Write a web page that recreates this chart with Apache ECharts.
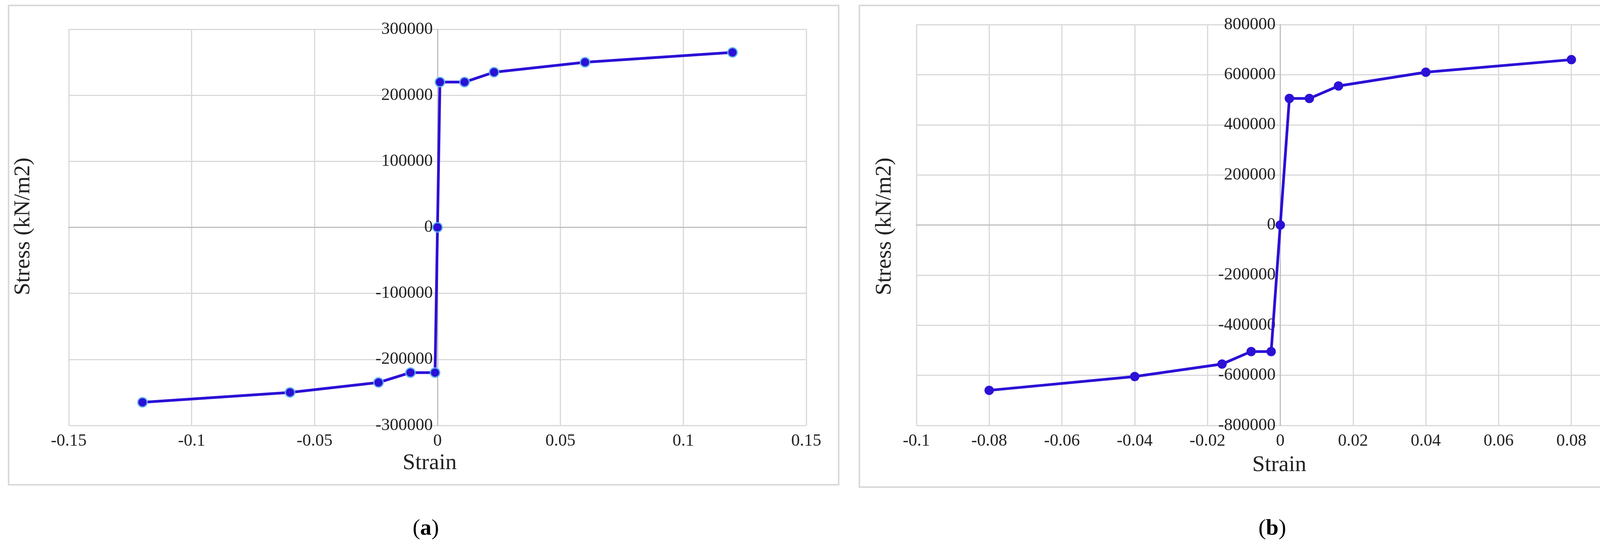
<!DOCTYPE html>
<html>
<head>
<meta charset="utf-8">
<script src="https://cdn.jsdelivr.net/npm/echarts@6/dist/echarts.min.js"></script>
<style>html,body{margin:0;background:#fff}#c{width:4328px;height:1422px}</style>
</head>
<body>
<div id="c"></div>
<script>
var strainA = [-0.12, -0.06, -0.024, -0.011, -0.001, 0, 0.001, 0.011, 0.023, 0.06, 0.12];
var stressA = [-265000, -250000, -235000, -220000, -220000, 0, 220000, 220000, 235000, 250000, 265000];
var strainB = [-0.08, -0.04, -0.016, -0.008, -0.0025, 0, 0.0025, 0.008, 0.016, 0.04, 0.08];
var stressB = [-660000, -605000, -555000, -505000, -505000, 0, 505000, 505000, 555000, 610000, 660000];

var font = 'Liberation Serif';
var gridLine = { show: true, lineStyle: { color: '#d9d9d9', width: 3 } };
function pairs(xs, ys) { return xs.map(function (x, i) { return [x, ys[i]]; }); }
function xAxis(idx, min, max, step) {
    return {
        type: 'value', gridIndex: idx, min: min, max: max, interval: step,
        axisLine: { onZero: true, lineStyle: { color: '#bfbfbf', width: 3 } },
        axisTick: { show: false }, splitLine: gridLine,
        axisLabel: { fontFamily: font, fontSize: 44, color: '#222', margin: 18, formatter: function (v) { return String(v); } }
    };
}
// y axis sits at x = 0, which is the middle of each plot
function yAxis(idx, min, max, step, off) {
    return {
        type: 'value', gridIndex: idx, min: min, max: max, interval: step, offset: off,
        axisLine: { onZero: false, lineStyle: { color: '#bfbfbf', width: 3 } },
        axisTick: { show: false }, splitLine: gridLine,
        axisLabel: { fontFamily: font, fontSize: 44, color: '#222', margin: 12, formatter: function (v) { return String(v); } }
    };
}
function series(idx, data, border) {
    return {
        type: 'line', xAxisIndex: idx, yAxisIndex: idx, data: data,
        symbol: 'circle', symbolSize: 24,
        lineStyle: { color: '#2b10d6', width: 7 },
        itemStyle: { color: '#2b10d6', borderColor: border, borderWidth: border ? 3 : 0 }
    };
}
function label(x, y, text, size, rot) {
    return { type: 'text', x: x, y: y, rotation: rot || 0,
        style: { text: text, font: size + 'px ' + font, fill: '#222', textAlign: 'center', textVerticalAlign: 'middle' } };
}

echarts.init(document.getElementById('c')).setOption({
    animation: false,
    grid: [
        { left: 176, top: 75, width: 1888, height: 1015 },
        { left: 2346, top: 63, width: 1863, height: 1027 }
    ],
    xAxis: [xAxis(0, -0.15, 0.15, 0.05), xAxis(1, -0.1, 0.1, 0.02)],
    yAxis: [yAxis(0, -300000, 300000, 100000, -944), yAxis(1, -800000, 800000, 200000, -931.5)],
    series: [series(0, pairs(strainA, stressA), '#5fb0ee'), series(1, pairs(strainB, stressB), null)],
    graphic: [
        { type: 'rect', shape: { x: 22, y: 14, width: 2125, height: 1228 }, style: { fill: 'none', stroke: '#d9d9d9', lineWidth: 4 } },
        { type: 'rect', shape: { x: 2200, y: 14, width: 2108, height: 1234 }, style: { fill: 'none', stroke: '#d9d9d9', lineWidth: 4 } },
        label(1100, 1187, 'Strain', 58),
        label(3275, 1192, 'Strain', 58),
        label(60, 580, 'Stress (kN/m2)', 58, Math.PI / 2),
        label(2265, 580, 'Stress (kN/m2)', 58, Math.PI / 2),
        { type: 'text', x: 1090, y: 1355, style: { rich: { b: { font: 'bold 58px ' + font, fill: '#000' }, n: { font: '58px ' + font, fill: '#000' } }, text: '{n|(}{b|a}{n|)}', textAlign: 'center', textVerticalAlign: 'middle' } },
        { type: 'text', x: 3257, y: 1355, style: { rich: { b: { font: 'bold 58px ' + font, fill: '#000' }, n: { font: '58px ' + font, fill: '#000' } }, text: '{n|(}{b|b}{n|)}', textAlign: 'center', textVerticalAlign: 'middle' } }
    ]
});
</script>
</body>
</html>
